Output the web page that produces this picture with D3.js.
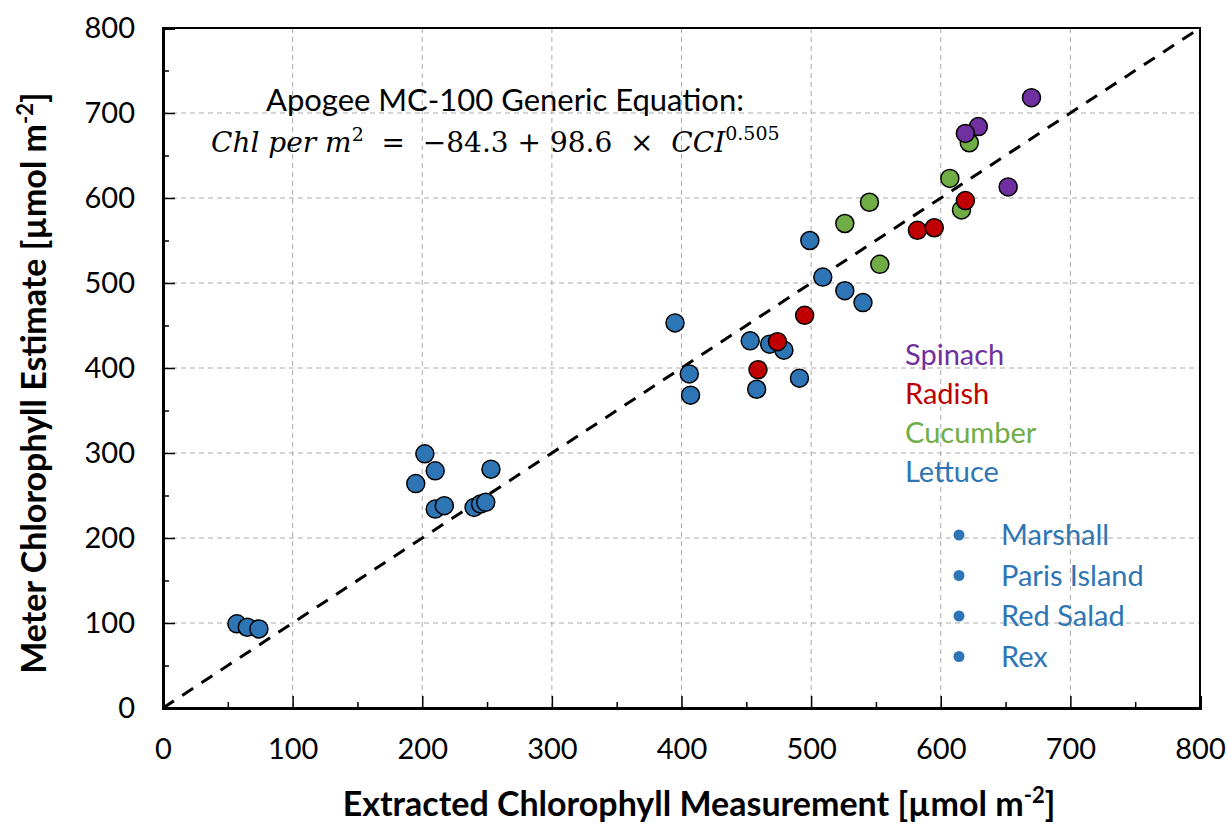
<!DOCTYPE html>
<html>
<head>
<meta charset="utf-8">
<script src="https://cdn.jsdelivr.net/npm/d3@7"></script>
<style>
  body { margin: 0; background: #fff; }
  text { font-family: "Lato", "Open Sans", sans-serif; }
</style>
</head>
<body>
<div id="chart"></div>
<script>
// extracted vs meter chlorophyll
const lettuceX = [57, 65, 74, 202, 210, 195, 210, 217, 253, 240, 245, 249, 395, 406, 407, 453, 468, 479, 458, 491, 499, 509, 526, 540];
const lettuceY = [99, 95, 93, 299, 279, 264, 234, 238, 281, 236, 240, 242, 453, 393, 368, 432, 428, 421, 375, 388, 550, 507, 491, 477];
const cucumberX = [526, 545, 553, 607, 616, 622];
const cucumberY = [570, 595, 522, 623, 586, 665];
const radishX = [459, 474, 495, 582, 595, 619];
const radishY = [398, 431, 462, 562, 565, 597];
const spinachX = [670, 629, 619, 652];
const spinachY = [718, 684, 676, 613];

const axisTicks = [0, 100, 200, 300, 400, 500, 600, 700, 800];
const minorTicks = [50, 150, 250, 350, 450, 550, 650, 750];

const cropNames = ["Spinach", "Radish", "Cucumber", "Lettuce"];
const cropColors = ["#7030A0", "#C00000", "#70AD47", "#2E75B6"];
const lettuceVarieties = ["Marshall", "Paris Island", "Red Salad", "Rex"];

const W = 1228, H = 824;
const margin = {left: 163, right: 28, top: 28, bottom: 116};
const width = W - margin.left - margin.right;
const height = H - margin.top - margin.bottom;

const svg = d3.select("#chart").append("svg")
  .attr("width", W)
  .attr("height", H);

const g = svg.append("g")
  .attr("transform", `translate(${margin.left},${margin.top})`);

const x = d3.scaleLinear().domain([0, 800]).range([0, width]);
const y = d3.scaleLinear().domain([0, 800]).range([height, 0]);

// grid
g.append("g").selectAll("line")
  .data(axisTicks.slice(1, -1))
  .join("line")
  .attr("x1", d => x(d)).attr("x2", d => x(d))
  .attr("y1", 0).attr("y2", height)
  .attr("stroke", "#ABABAB").attr("stroke-width", 1).attr("stroke-dasharray", "5,4");
g.append("g").selectAll("line")
  .data(axisTicks.slice(1, -1))
  .join("line")
  .attr("y1", d => y(d)).attr("y2", d => y(d))
  .attr("x1", 0).attr("x2", width)
  .attr("stroke", "#ABABAB").attr("stroke-width", 1).attr("stroke-dasharray", "5,4");

// 1:1 line
g.append("line")
  .attr("x1", x(0)).attr("y1", y(0))
  .attr("x2", x(800)).attr("y2", y(800))
  .attr("stroke", "#000").attr("stroke-width", 3).attr("stroke-dasharray", "13,10");

// frame
g.append("rect")
  .attr("width", width).attr("height", height)
  .attr("fill", "none").attr("stroke", "#000").attr("stroke-width", 2);

// axes (ticks inside)
const xAxis = g.append("g")
  .attr("transform", `translate(0,${height})`)
  .call(d3.axisBottom(x).tickValues(axisTicks).tickSize(-12).tickPadding(30).tickFormat(d3.format("d")));
g.append("g")
  .attr("transform", `translate(0,${height})`)
  .call(d3.axisBottom(x).tickValues(minorTicks).tickSize(-6).tickFormat(""));
const yAxis = g.append("g")
  .call(d3.axisLeft(y).tickValues(axisTicks).tickSize(-12).tickPadding(28).tickFormat(d3.format("d")));
g.append("g")
  .call(d3.axisLeft(y).tickValues(minorTicks).tickSize(-6).tickFormat(""));

g.selectAll(".domain").attr("stroke", "#000").attr("stroke-width", 3);
g.selectAll(".tick line").attr("stroke", "#000").attr("stroke-width", 1.5);
g.selectAll(".tick text")
  .style("font-family", "Lato, sans-serif")
  .style("font-size", "29px")
  .attr("fill", "#000");
xAxis.selectAll("text").attr("dy", "0.71em");

// points
const series = [
  {xs: lettuceX, ys: lettuceY, color: cropColors[3]},
  {xs: cucumberX, ys: cucumberY, color: cropColors[2]},
  {xs: radishX, ys: radishY, color: cropColors[1]},
  {xs: spinachX, ys: spinachY, color: cropColors[0]}
];
series.forEach(s => {
  g.append("g").selectAll("circle")
    .data(s.xs.map((v, i) => [v, s.ys[i]]))
    .join("circle")
    .attr("cx", d => x(d[0]))
    .attr("cy", d => y(d[1]))
    .attr("r", 9)
    .attr("fill", s.color)
    .attr("stroke", "#000")
    .attr("stroke-width", 1.5);
});

// equation annotation
g.append("text")
  .attr("x", 342).attr("y", 83)
  .attr("text-anchor", "middle")
  .style("font-size", "31px")
  .text("Apogee MC-100 Generic Equation:");
const eq = g.append("text")
  .attr("x", 48).attr("y", 124)
  .style("font-family", "'DejaVu Serif', serif")
  .style("font-size", "28px")
  .style("white-space", "pre");
eq.append("tspan").style("font-style", "italic").text("Chl per m");
eq.append("tspan").attr("dy", -11).style("font-size", "19px").text("2");
eq.append("tspan").attr("dy", 11).text("  =  −84.3 + 98.6  ×  ");
eq.append("tspan").style("font-style", "italic").text("CCI");
eq.append("tspan").attr("dy", -12).style("font-size", "19px").text("0.505");

// legend
const legend = g.append("g").attr("transform", "translate(742,0)");
legend.selectAll("text")
  .data(cropNames)
  .join("text")
  .attr("x", 0)
  .attr("y", (d, i) => 337 + i * 39)
  .attr("fill", (d, i) => cropColors[i])
  .style("font-size", "29px")
  .text(d => d);
const vars = legend.append("g");
vars.selectAll("circle")
  .data(lettuceVarieties)
  .join("circle")
  .attr("cx", 54)
  .attr("cy", (d, i) => 507 + i * 40.5)
  .attr("r", 5.5)
  .attr("fill", cropColors[3]);
vars.selectAll("text")
  .data(lettuceVarieties)
  .join("text")
  .attr("x", 96)
  .attr("y", (d, i) => 517 + i * 40.5)
  .attr("fill", cropColors[3])
  .style("font-size", "29px")
  .text(d => d);

// axis titles
const xt = svg.append("text")
  .attr("x", 699)
  .attr("y", 816)
  .attr("text-anchor", "middle")
  .style("font-size", "34px")
  .style("font-weight", "bold");
xt.append("tspan").text("Extracted Chlorophyll Measurement [µmol m");
xt.append("tspan").attr("dy", -13).style("font-size", "22px").text("-2");
xt.append("tspan").attr("dy", 13).text("]");

const yt = svg.append("text")
  .attr("transform", "translate(46,383) rotate(-90)")
  .attr("text-anchor", "middle")
  .style("font-size", "34px")
  .style("font-weight", "bold");
yt.append("tspan").text("Meter Chlorophyll Estimate [µmol m");
yt.append("tspan").attr("dy", -13).style("font-size", "22px").text("-2");
yt.append("tspan").attr("dy", 13).text("]");
</script>
</body>
</html>
